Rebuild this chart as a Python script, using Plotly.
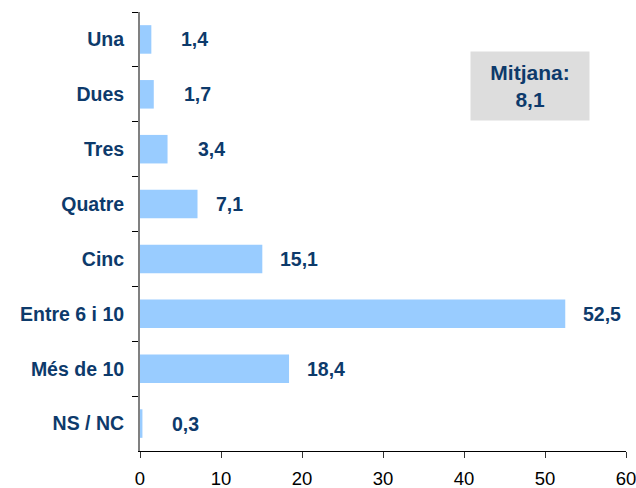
import plotly.graph_objects as go

categories = ["Una", "Dues", "Tres", "Quatre", "Cinc", "Entre 6 i 10", "Més de 10", "NS / NC"]
values = [1.4, 1.7, 3.4, 7.1, 15.1, 52.5, 18.4, 0.3]
x_ticks = [0, 10, 20, 30, 40, 50, 60]
mean_label = "Mitjana:"
mean_value = 8.1

NAVY = "#0D3A6B"
BAR = "#99CCFF"
FONT = "Liberation Sans, Arial, sans-serif"

W, H = 636, 488
ML, MR, MT, MB = 140, 10, 12, 37

def fmt(v):
    return f"{v:.1f}".replace(".", ",")

fig = go.Figure()
fig.add_trace(go.Bar(
    y=categories, x=values, orientation="h",
    marker=dict(color=BAR, line=dict(width=0)),
    width=0.52, hoverinfo="skip",
))

annotations = []
for c, v in zip(categories, values):
    annotations.append(dict(
        x=v, y=c, xref="x", yref="y", text=f"<b>{fmt(v)}</b>",
        showarrow=False, xanchor="left", yanchor="middle",
        xshift=28 if v < 5 else 16,
        font=dict(family=FONT, size=19.5, color=NAVY),
    ))

# mean box, placed by its pixel centre and converted to paper fractions
box_cx, box_cy = 530, 86
annotations.append(dict(
    x=(box_cx - ML) / (W - ML - MR), y=1 - (box_cy - MT) / (H - MT - MB),
    xref="paper", yref="paper", showarrow=False,
    text=f"<b>{mean_label}<br>{fmt(mean_value)}</b>",
    font=dict(family=FONT, size=21, color=NAVY),
    bgcolor="#DDDDDD", width=116, height=66, align="center", valign="middle",
    xanchor="center", yanchor="middle",
))

fig.update_layout(
    width=W, height=H,
    margin=dict(l=ML, r=MR, t=MT, b=MB, pad=0, autoexpand=False),
    plot_bgcolor="white", paper_bgcolor="white",
    showlegend=False,
    annotations=annotations,
    xaxis=dict(
        range=[0, 60], tickvals=x_ticks, ticktext=[str(t) for t in x_ticks],
        showgrid=False, zeroline=False, automargin=False,
        showline=True, linecolor="#000000", linewidth=1,
        ticks="outside", ticklen=6, tickcolor="#333333",
        tickfont=dict(family=FONT, size=18.5, color="#000000"),
        ticklabelstandoff=5, ticklabeloverflow="allow",
    ),
    yaxis=dict(
        autorange="reversed", showgrid=False, zeroline=False, automargin=False,
        showline=True, linecolor="#808080", linewidth=2,
        ticks="outside", ticklen=6, tickcolor="#000000", tickson="boundaries",
        tickfont=dict(family=FONT, size=19.5, color=NAVY, weight="bold"),
        ticklabelstandoff=10, ticklabeloverflow="allow",
    ),
)

fig.write_html(
    "out.html",
    config={"displayModeBar": False, "staticPlot": True},
    post_script="document.body.style.margin='0';document.body.style.overflow='hidden';",
)
